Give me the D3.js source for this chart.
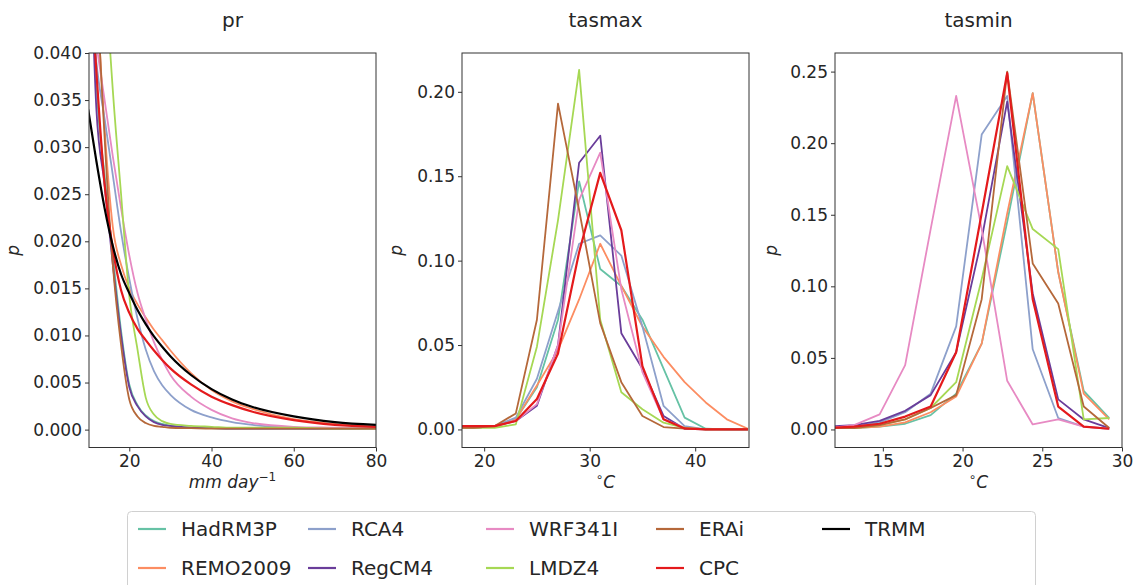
<!DOCTYPE html>
<html>
<head>
<meta charset="utf-8">
<script src="https://cdn.jsdelivr.net/npm/d3@7"></script>
<style>
body{margin:0;background:#fff;}
svg text{font-family:"DejaVu Sans",sans-serif;fill:#262626;}
</style>
</head>
<body>
<div id="chart"></div>
<script>
// legend order (two rows, column-major)
var models = ["HadRM3P","REMO2009","RCA4","RegCM4","WRF341I","LMDZ4","ERAi","CPC","TRMM"];
var colors = {
  HadRM3P:"#66c2a5", REMO2009:"#fc8d62", RCA4:"#8da0cb", RegCM4:"#6a3d9a",
  WRF341I:"#e78ac3", LMDZ4:"#a6d854", ERAi:"#b5683a", CPC:"#e41a1c", TRMM:"#000000"
};

// ---- pr (mm/day) ----
var prX        = [10, 12, 14, 16, 18, 20, 22, 24, 26, 28, 30, 35, 40, 45, 50, 60, 70, 80];
var prHadRM3P  = [0.065, 0.037, 0.027, 0.0185, 0.0105, 0.0048, 0.0026, 0.0015, 0.0009, 0.0006, 0.0004, 0.0002, 0.00015, 0.0001, 0.0001, 0.0001, 0.0001, 0.0001];
var prREMO2009 = [0.075, 0.048, 0.032, 0.0215, 0.0175, 0.0150, 0.0133, 0.0119, 0.0106, 0.0095, 0.0084, 0.0060, 0.0042, 0.0030, 0.0022, 0.0011, 0.0006, 0.0003];
var prRCA4     = [0.050, 0.039, 0.033, 0.027, 0.021, 0.016, 0.0118, 0.0085, 0.0062, 0.0047, 0.0037, 0.0021, 0.0013, 0.0008, 0.0005, 0.0002, 0.0001, 0.0001];
var prRegCM4   = [0.060, 0.034, 0.026, 0.0175, 0.0100, 0.0045, 0.0025, 0.0014, 0.0008, 0.0005, 0.0004, 0.0002, 0.00015, 0.0001, 0.0001, 0.0001, 0.0001, 0.0001];
var prWRF341I  = [0.048, 0.041, 0.035, 0.029, 0.0235, 0.0185, 0.0145, 0.0117, 0.0093, 0.0074, 0.0058, 0.0035, 0.0021, 0.0012, 0.0007, 0.0003, 0.0002, 0.0001];
var prLMDZ4    = [0.100, 0.070, 0.050, 0.036, 0.025, 0.0142, 0.0085, 0.0034, 0.0016, 0.0009, 0.0006, 0.0004, 0.0003, 0.0002, 0.0002, 0.0002, 0.0001, 0.0001];
var prERAi     = [0.090, 0.050, 0.031, 0.0175, 0.0090, 0.0032, 0.0014, 0.0007, 0.0004, 0.0003, 0.0002, 0.00015, 0.0001, 0.0001, 0.0001, 0.0001, 0.0001, 0.0001];
var prCPC      = [0.052, 0.038, 0.026, 0.0192, 0.0148, 0.0124, 0.0107, 0.0095, 0.0084, 0.0074, 0.0065, 0.0048, 0.0035, 0.0026, 0.0019, 0.0010, 0.0005, 0.0003];
var prTRMM     = [0.034, 0.0285, 0.0235, 0.0195, 0.0165, 0.0145, 0.0127, 0.0112, 0.0099, 0.0088, 0.0078, 0.0058, 0.0043, 0.0032, 0.0024, 0.0014, 0.0008, 0.0005];

// ---- tasmax (deg C) ----
var tasmaxX        = [17, 19, 21, 23, 25, 27, 29, 31, 33, 35, 37, 39, 41, 43, 45];
var tasmaxHadRM3P  = [0.001, 0.001, 0.002, 0.006, 0.025, 0.065, 0.147, 0.095, 0.085, 0.065, 0.036, 0.007, 0.0004, 0, 0];
var tasmaxREMO2009 = [0.001, 0.001, 0.002, 0.006, 0.026, 0.047, 0.077, 0.110, 0.085, 0.061, 0.043, 0.028, 0.016, 0.006, 0.0004];
var tasmaxRCA4     = [0.001, 0.001, 0.002, 0.007, 0.030, 0.070, 0.110, 0.115, 0.103, 0.061, 0.014, 0.002, 0, 0, 0];
var tasmaxRegCM4   = [0.001, 0.001, 0.002, 0.005, 0.014, 0.050, 0.158, 0.174, 0.057, 0.036, 0.008, 0.0004, 0, 0, 0];
var tasmaxWRF341I  = [0.001, 0.001, 0.002, 0.005, 0.015, 0.050, 0.136, 0.164, 0.083, 0.034, 0.006, 0.001, 0, 0, 0];
var tasmaxLMDZ4    = [0.001, 0.001, 0.001, 0.003, 0.049, 0.124, 0.213, 0.065, 0.022, 0.012, 0.004, 0.001, 0, 0, 0];
var tasmaxERAi     = [0.001, 0.001, 0.002, 0.0095, 0.065, 0.193, 0.130, 0.063, 0.028, 0.008, 0.0014, 0.0005, 0, 0, 0];
var tasmaxCPC      = [0.002, 0.002, 0.002, 0.005, 0.018, 0.045, 0.105, 0.152, 0.118, 0.0375, 0.006, 0.0006, 0, 0, 0];

// ---- tasmin (deg C) ----
var tasminX        = [11.6, 13.2, 14.8, 16.4, 18.0, 19.6, 21.2, 22.8, 24.4, 26.0, 27.6, 29.2];
var tasminHadRM3P  = [0.001, 0.001, 0.002, 0.004, 0.010, 0.025, 0.060, 0.145, 0.235, 0.110, 0.027, 0.008];
var tasminREMO2009 = [0.001, 0.001, 0.002, 0.005, 0.012, 0.023, 0.060, 0.151, 0.235, 0.110, 0.025, 0.007];
var tasminRCA4     = [0.001, 0.002, 0.005, 0.012, 0.025, 0.072, 0.206, 0.233, 0.056, 0.008, 0.002, 0.0005];
var tasminRegCM4   = [0.002, 0.003, 0.006, 0.013, 0.024, 0.054, 0.133, 0.229, 0.095, 0.021, 0.007, 0.001];
var tasminWRF341I  = [0.001, 0.003, 0.0105, 0.045, 0.140, 0.233, 0.140, 0.034, 0.0035, 0.007, 0.002, 0.0005];
var tasminLMDZ4    = [0.001, 0.001, 0.003, 0.007, 0.015, 0.033, 0.105, 0.184, 0.140, 0.126, 0.007, 0.008];
var tasminERAi     = [0.001, 0.001, 0.003, 0.007, 0.015, 0.024, 0.091, 0.250, 0.116, 0.088, 0.016, 0.001];
var tasminCPC      = [0.001, 0.002, 0.004, 0.009, 0.016, 0.054, 0.151, 0.249, 0.091, 0.016, 0.002, 0.0005];

var prTicksX = [20, 40, 60, 80];
var prTicksY = [0, 0.005, 0.010, 0.015, 0.020, 0.025, 0.030, 0.035, 0.040];
var tasmaxTicksX = [20, 30, 40];
var tasmaxTicksY = [0, 0.05, 0.10, 0.15, 0.20];
var tasminTicksX = [15, 20, 25, 30];
var tasminTicksY = [0, 0.05, 0.10, 0.15, 0.20, 0.25];

var width = 1134, height = 585;
var plotTop = 53, plotBottom = 447.5, pw = 287;

var svg = d3.select("#chart").append("svg")
    .attr("width", width)
    .attr("height", height);

function drawPanel(o){
  var xScale = d3.scaleLinear().domain(o.xDomain).range([o.left, o.left + pw]);
  var yScale = d3.scaleLinear().domain(o.yDomain).range([plotBottom, plotTop]);
  var g = svg.append("g");

  var clipId = "clip-" + o.title;
  svg.append("clipPath").attr("id", clipId)
    .append("rect")
    .attr("x", o.left).attr("y", plotTop)
    .attr("width", pw).attr("height", plotBottom - plotTop);

  var line = d3.line()
      .x(function(d){ return xScale(d[0]); })
      .y(function(d){ return yScale(d[1]); })
      .curve(o.curve);

  var lines = g.append("g").attr("clip-path", "url(#" + clipId + ")");
  o.series.forEach(function(s){
    var pts = o.x.map(function(v, i){ return [v, s.values[i]]; });
    lines.append("path")
      .attr("d", line(pts))
      .attr("fill", "none")
      .attr("stroke", colors[s.name])
      .attr("stroke-width", (s.name == "CPC" || s.name == "TRMM") ? 2.2 : 1.8)
      .attr("stroke-linejoin", "round");
  });

  var xAxis = d3.axisBottom(xScale).tickValues(o.ticksX).tickSize(4).tickPadding(3).tickFormat(d3.format("d"));
  var yAxis = d3.axisLeft(yScale).tickValues(o.ticksY).tickSize(4).tickPadding(3).tickFormat(d3.format(o.yFormat));

  var gx = g.append("g").attr("transform", "translate(0," + plotBottom + ")").call(xAxis);
  var gy = g.append("g").attr("transform", "translate(" + o.left + ",0)").call(yAxis);
  [gx, gy].forEach(function(a){
    a.select(".domain").remove();
    a.selectAll("line").attr("stroke", "#333");
    a.selectAll("text").attr("font-size", 17).attr("fill", "#262626")
      .attr("font-family", "DejaVu Sans");
  });

  g.append("rect")
    .attr("x", o.left).attr("y", plotTop)
    .attr("width", pw).attr("height", plotBottom - plotTop)
    .attr("fill", "none").attr("stroke", "#333").attr("stroke-width", 1);

  g.append("text")
    .attr("x", o.left + pw / 2).attr("y", 27)
    .attr("text-anchor", "middle")
    .attr("font-size", 20)
    .text(o.title);

  // y label "p"
  g.append("text")
    .attr("transform", "translate(" + o.yLabelX + "," + ((plotTop + plotBottom) / 2) + ") rotate(-90)")
    .attr("text-anchor", "middle")
    .attr("font-size", 17)
    .attr("font-style", "italic")
    .text("p");

  // x label
  var xl = g.append("text")
    .attr("x", o.left + pw / 2).attr("y", 488)
    .attr("text-anchor", "middle")
    .attr("font-size", 17);
  if (o.title == "pr"){
    xl.append("tspan").attr("font-style", "italic").text("mm day");
    xl.append("tspan").attr("font-size", 12).attr("dy", -7).text("\u22121");
  } else {
    xl.append("tspan").attr("font-size", 12).attr("dy", -7).text("\u2218");
    xl.append("tspan").attr("font-style", "italic").attr("dy", 7).text("C");
  }
}

function seriesFor(names, prefix){
  var lookup = {
    pr: {HadRM3P:prHadRM3P, REMO2009:prREMO2009, RCA4:prRCA4, RegCM4:prRegCM4, WRF341I:prWRF341I, LMDZ4:prLMDZ4, ERAi:prERAi, CPC:prCPC, TRMM:prTRMM},
    tasmax: {HadRM3P:tasmaxHadRM3P, REMO2009:tasmaxREMO2009, RCA4:tasmaxRCA4, RegCM4:tasmaxRegCM4, WRF341I:tasmaxWRF341I, LMDZ4:tasmaxLMDZ4, ERAi:tasmaxERAi, CPC:tasmaxCPC},
    tasmin: {HadRM3P:tasminHadRM3P, REMO2009:tasminREMO2009, RCA4:tasminRCA4, RegCM4:tasminRegCM4, WRF341I:tasminWRF341I, LMDZ4:tasminLMDZ4, ERAi:tasminERAi, CPC:tasminCPC}
  }[prefix];
  return names.filter(function(n){ return lookup[n]; })
    .map(function(n){ return {name:n, values:lookup[n]}; });
}

drawPanel({title:"pr", left:89, x:prX, series:seriesFor(models, "pr"),
  xDomain:[10.2, 80], yDomain:[-0.0019, 0.040], ticksX:prTicksX, ticksY:prTicksY,
  yFormat:".3f", curve:d3.curveMonotoneX, yLabelX:19});
drawPanel({title:"tasmax", left:462, x:tasmaxX, series:seriesFor(models, "tasmax"),
  xDomain:[17.9, 45.1], yDomain:[-0.0107, 0.223], ticksX:tasmaxTicksX, ticksY:tasmaxTicksY,
  yFormat:".2f", curve:d3.curveLinear, yLabelX:402});
drawPanel({title:"tasmin", left:835, x:tasminX, series:seriesFor(models, "tasmin"),
  xDomain:[12, 30], yDomain:[-0.0126, 0.263], ticksX:tasminTicksX, ticksY:tasminTicksY,
  yFormat:".2f", curve:d3.curveLinear, yLabelX:777});

// legend
var legend = svg.append("g");
legend.append("rect")
  .attr("x", 127.5).attr("y", 511.5)
  .attr("width", 908).attr("height", 90)
  .attr("rx", 4)
  .attr("fill", "#fff").attr("stroke", "#d0d0d0");
var colX = [138, 308, 486, 656, 822];
var rowY = [529, 568];
models.forEach(function(m, i){
  var cx = colX[Math.floor(i / 2)], cy = rowY[i % 2];
  legend.append("line")
    .attr("x1", cx).attr("x2", cx + 28)
    .attr("y1", cy).attr("y2", cy)
    .attr("stroke", colors[m]).attr("stroke-width", 2.2);
  legend.append("text")
    .attr("x", cx + 43).attr("y", cy + 7)
    .attr("font-size", 20)
    .text(m);
});
</script>
</body>
</html>
